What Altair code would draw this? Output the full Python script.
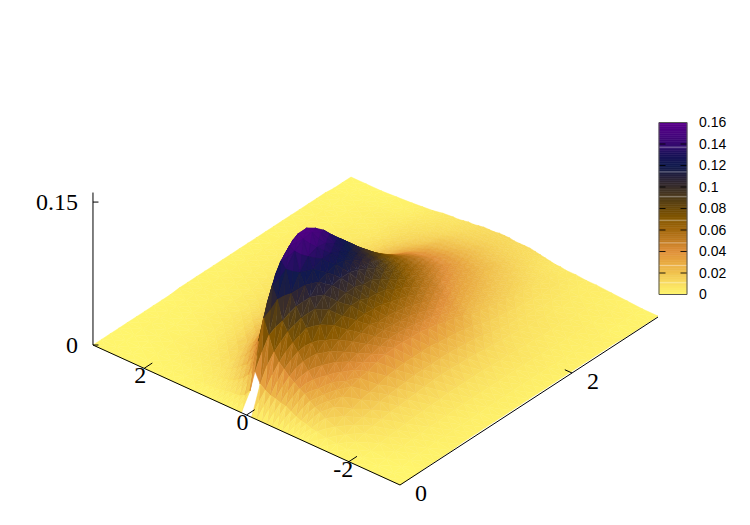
import altair as alt
import pandas as pd

alt.data_transformers.disable_max_rows()

# grid of the surface: x, y and z (z in thousandths)
X_VALUES = [0, .1, .2, .3, .4, .5, .6, .7, .8, .9, 1, 1.1, 1.2, 1.3, 1.4, 1.5, 1.6, 1.7, 1.8, 1.9, 2, 2.1, 2.2, 2.3, 2.4, 2.5, 2.6, 2.7, 2.8, 2.9, 3]
Y_VALUES = [-3, -2.7, -2.4, -2.1, -1.8, -1.6, -1.4, -1.2, -1.1, -1, -.9, -.8, -.7, -.6, -.5, -.4, -.3, -.2, -.1, 0,
            .1, .2, .3, .4, .5, .6, .7, .8, .9, 1, 1.2, 1.4, 1.6, 1.8, 2.1, 2.4, 2.7, 3]
Z_ROWS = [
    [0,0,0,0,0,0,0,0,0,0,0,0,0,0,0,0,0,0,0,None,0,0,0,0,0,0,0,0,0,0,0,0,0,0,0,0,0,0],
    [0,0,0,1,2,3,4,6,7,9,10,12,15,18,19,21,22,25,29,40,17,10,7,6,6,5,4,3,3,3,2,1,1,1,0,0,0,0],
    [0,0,1,2,4,7,10,14,18,21,25,30,33,37,41,46,51,59,74,90,63,35,23,17,13,10,8,7,6,5,3,2,2,1,1,0,0,0],
    [1,1,3,4,7,11,15,20,24,28,32,39,46,53,61,68,77,86,106,118,97,64,44,31,23,19,14,11,8,7,5,4,3,2,1,1,0,0],
    [1,2,3,5,9,13,17,25,30,35,40,48,58,67,80,88,98,109,132,138,122,92,64,47,37,28,21,17,12,10,7,5,4,3,2,1,1,0],
    [1,2,4,6,10,15,21,30,33,40,48,57,66,80,94,104,114,125,145,148,136,113,83,60,48,38,29,22,17,14,9,6,4,3,2,1,1,0],
    [1,3,4,7,12,18,23,33,39,45,53,63,76,90,103,114,125,136,152,155,146,126,99,71,57,45,35,27,22,17,12,8,5,3,2,1,1,0],
    [2,3,5,8,12,19,25,34,41,48,58,68,80,93,107,118,130,140,153,155,147,131,109,84,65,51,41,32,26,21,13,9,6,4,3,1,1,0],
    [2,3,5,8,13,20,28,38,44,52,61,72,85,96,109,121,130,138,147,149,142,128,112,91,71,56,45,36,30,23,16,10,7,5,3,2,1,0],
    [2,3,5,9,14,21,29,40,46,54,64,73,85,96,109,119,126,132,139,141,136,124,109,92,74,59,48,40,32,26,17,12,8,6,3,2,1,0],
    [2,3,6,9,15,22,30,41,48,55,61,72,81,93,106,113,119,124,129,130,126,117,104,91,77,61,50,41,32,28,20,13,9,6,3,2,2,1],
    [2,3,6,10,16,22,30,41,48,54,61,71,80,92,101,108,112,114,120,120,118,110,100,88,75,62,51,41,33,27,20,14,9,6,4,2,2,1],
    [2,4,6,10,16,22,30,40,47,53,60,68,78,87,96,102,104,107,110,110,108,101,93,83,71,60,50,41,33,28,20,15,10,7,4,2,2,1],
    [2,4,6,10,16,22,30,40,46,52,58,65,72,80,87,92,96,97,100,100,98,93,86,77,67,58,49,42,35,30,21,15,11,7,4,3,2,1],
    [2,4,6,10,15,22,28,38,43,49,55,62,69,75,80,84,86,88,91,91,90,85,79,71,63,55,47,40,35,30,21,16,11,8,5,3,2,1],
    [2,4,6,10,15,21,27,36,42,46,52,58,63,69,73,76,79,80,82,82,81,77,73,66,59,52,45,39,34,29,21,15,11,8,5,3,2,1],
    [2,4,6,9,14,20,26,33,38,42,47,52,57,62,65,68,71,72,74,74,73,70,66,60,54,48,42,36,31,28,20,15,11,8,5,3,2,1],
    [2,4,6,9,13,19,24,31,34,38,43,47,51,56,59,62,65,66,67,67,66,63,60,55,50,45,40,35,31,28,20,14,10,8,5,3,2,1],
    [2,4,6,9,12,17,22,28,32,35,39,43,47,50,53,56,58,59,60,60,59,57,54,50,46,41,36,32,28,25,18,13,10,7,5,3,2,1],
    [2,4,6,8,11,14,18,23,26,29,32,36,39,43,46,49,52,53,54,54,53,51,49,46,42,38,34,30,27,24,17,13,9,7,5,3,2,1],
    [2,3,5,7,10,13,16,21,23,26,29,32,35,38,41,44,46,47,48,48,47,46,44,41,38,34,31,27,24,22,16,12,9,6,4,3,2,1],
    [2,3,5,7,9,11,14,19,21,24,26,29,31,33,36,38,41,41,42,42,41,40,39,37,34,31,28,25,23,21,15,11,8,6,4,3,2,1],
    [2,3,4,6,8,10,13,17,19,21,23,26,28,30,32,34,36,36,37,37,36,36,34,32,30,28,26,23,21,19,14,10,8,6,4,3,2,1],
    [2,3,4,6,8,9,11,16,17,19,21,23,25,27,29,30,32,32,33,33,32,31,31,29,27,25,23,21,19,17,13,10,7,5,4,2,2,1],
    [2,3,4,5,7,8,10,13,15,17,18,20,21,23,25,26,27,28,28,28,28,27,26,25,24,22,20,18,17,15,12,9,6,5,4,2,2,1],
    [2,3,4,5,6,7,9,12,13,15,16,18,19,21,22,23,23,24,24,24,24,23,23,22,21,19,17,16,15,13,11,8,6,4,3,2,2,1],
    [1,2,3,4,5,7,8,10,12,13,14,15,17,18,19,19,20,20,21,21,20,20,19,19,18,17,15,14,13,12,10,8,6,4,3,2,1,1],
    [1,2,3,4,5,6,8,9,10,11,12,13,14,15,16,16,17,17,18,18,17,17,16,16,15,14,13,12,11,10,9,7,5,4,3,2,1,1],
    [1,2,3,3,4,5,7,8,9,9,10,11,12,13,13,14,14,15,15,15,15,14,14,13,13,12,11,10,10,9,7,6,4,3,2,1,1,0],
    [1,2,2,3,4,4,6,6,7,7,8,9,10,11,11,12,12,13,13,13,13,13,12,12,11,10,10,9,8,8,6,5,3,2,1,1,0,0],
    [1,1,2,3,4,4,5,5,6,6,7,8,9,10,11,11,11,11,12,12,12,11,11,11,10,9,9,8,7,7,6,4,3,2,1,0,0,0],
]

# colour palette
PAL_Z = [0, .01, .02, .03, .04, .05, .06, .07, .08, .09, .10, .11, .12, .13, .14, .15, .16]
PAL_C = ["#fff56c", "#f9de5f", "#f1c450", "#e8a940", "#e0903a", "#c27c22", "#a56a10", "#875800",
         "#6b4a08", "#4e3a18", "#3a2e2a", "#25203a", "#101a4e", "#1a1258", "#360a70", "#48047e", "#5a008a"]

# colour-bar labels and artefact lines
BAR_TICKS = [0, .02, .04, .06, .08, .10, .12, .14, .16]
BAR_LABELS = ["0", "0.02", "0.04", "0.06", "0.08", "0.1", "0.12", "0.14", "0.16"]
BAR_LINES = [.011, .027, .048, .069, .091, .114, .137]

Z_TICKS = [0, .15]
Z_LABELS = ["0", "0.15"]
Y_TICKS = [2, 0, -2]
X_TICKS = [0, 2]


def px(x, y, z=0.0):
    return 400 + 86 * x - 51.17 * (y + 3)


def py(x, y, z=0.0):
    return 485 - 56 * x - 23.33 * (y + 3) - 953 * z


# surface cells, back to front; each read cell is shaded as four triangles
rows = []
cid = 0
for i in range(len(X_VALUES) - 2, -1, -1):
    for j in range(len(Y_VALUES) - 2, -1, -1):
        q = [(i + 1, j), (i + 1, j + 1), (i, j + 1), (i, j)]
        zs = [Z_ROWS[a][b] for a, b in q]
        if None in zs:
            continue
        pts = [(px(X_VALUES[a], Y_VALUES[b], Z_ROWS[a][b] / 1000),
                py(X_VALUES[a], Y_VALUES[b], Z_ROWS[a][b] / 1000)) for a, b in q]
        cx = sum(p[0] for p in pts) / 4
        cy = sum(p[1] for p in pts) / 4
        cz = sum(zs) / 4
        for m1, m2 in [(0, 1), (1, 2), (3, 0), (2, 3)]:
            shade = (zs[m1] + zs[m2] + cz) / 3000
            tri = [pts[m1], pts[m2], (cx, cy), pts[m1]]
            for k, (sx, sy) in enumerate(tri):
                rows.append({"sx": sx, "sy": sy, "cell": cid, "k": k, "c": shade})
            cid += 1
surface = pd.DataFrame(rows)

xs = alt.Scale(domain=[8, 742], range=[0, 734], nice=False, zero=False)
ys = alt.Scale(domain=[517, 8], range=[509, 0], nice=False, zero=False)
cs = alt.Scale(domain=PAL_Z, range=PAL_C, interpolate="rgb")
X = alt.X("sx:Q", scale=xs, axis=None)
Y = alt.Y("sy:Q", scale=ys, axis=None)

surf = alt.Chart(surface).mark_line(strokeWidth=0.5, interpolate="linear").encode(
    x=X, y=Y, detail="cell:N", order="k:Q",
    fill=alt.Fill("c:Q", scale=cs, legend=None),
    stroke=alt.Stroke("c:Q", scale=cs, legend=None),
)

# axis lines and ticks
segs = [
    (px(0, 3), py(0, 3), px(0, -3), py(0, -3), 1.0),
    (px(0, -3), py(0, -3), px(3, -3), py(3, -3), 1.0),
    (px(0, 3), py(0, 3), px(0, 3), py(0, 3, .16), 1.0),
]
for t in Y_TICKS:
    segs.append((px(0, t), py(0, t), px(.095, t), py(.095, t), 1.0))
for t in X_TICKS[1:]:
    segs.append((px(t, -3), py(t, -3), px(t, -2.86), py(t, -2.86), 1.0))
for t in Z_TICKS:
    segs.append((px(0, 3), py(0, 3, t), px(0, 3) + 5.5, py(0, 3, t), 1.0))
seg_df = pd.DataFrame(segs, columns=["sx", "sy", "sx2", "sy2", "w"])
axes = alt.Chart(seg_df).mark_rule(color="black", strokeWidth=1).encode(
    x=X, y=Y, x2="sx2:Q", y2="sy2:Q")

# axis labels
labs = []
for t, s in zip(Z_TICKS, Z_LABELS):
    labs.append((78, py(0, 3, t) + 0.5, s, "right"))
for t in Y_TICKS:
    labs.append((px(0, t) - 4 - (1.5 if t < 0 else 0), py(0, t) + 8, str(t), "center"))
for t in X_TICKS:
    labs.append((px(t, -3) + 21, py(t, -3) + 9, str(t), "center"))
lab_df = pd.DataFrame(labs, columns=["sx", "sy", "t", "a"])
label_layers = [
    alt.Chart(lab_df[lab_df.a == a]).mark_text(font="Liberation Serif", fontSize=24, color="black",
                                               align=a, baseline="middle").encode(x=X, y=Y, text="t:N")
    for a in ["right", "center"]
]

# colour bar
BX0, BX1, BY0, BH = 659, 687, 294.5, 172


def bar_y(v):
    return BY0 - BH * v / .16


steps = 80
bar_df = pd.DataFrame({
    "sx": [BX0] * steps, "sx2": [BX1] * steps,
    "sy": [bar_y(i * .002) for i in range(steps)],
    "sy2": [bar_y((i + 1) * .002) for i in range(steps)],
    "c": [(i + .5) * .002 for i in range(steps)],
})
bar = alt.Chart(bar_df).mark_rect(strokeWidth=0.6).encode(
    x=X, x2="sx2:Q", y=Y, y2="sy2:Q",
    fill=alt.Fill("c:Q", scale=cs, legend=None),
    stroke=alt.Stroke("c:Q", scale=cs, legend=None))

line_df = pd.DataFrame({"sx": [BX0] * len(BAR_LINES), "sx2": [BX1] * len(BAR_LINES),
                        "sy": [bar_y(v) for v in BAR_LINES]})
lines = alt.Chart(line_df).mark_rule(color="white", opacity=.4, strokeWidth=1).encode(x=X, x2="sx2:Q", y=Y)

tk = []
for v in BAR_TICKS:
    tk.append((BX0, BX0 + 6.5, bar_y(v)))
    tk.append((BX1 - 6.5, BX1, bar_y(v)))
tk_df = pd.DataFrame(tk, columns=["sx", "sx2", "sy"])
ticks = alt.Chart(tk_df).mark_rule(color="black", strokeWidth=1, opacity=.85).encode(x=X, x2="sx2:Q", y=Y)

fr_df = pd.DataFrame({"sx": [BX0], "sx2": [BX1], "sy": [bar_y(.16)], "sy2": [bar_y(0)]})
frame = alt.Chart(fr_df).mark_rect(fill="transparent", stroke="#555555", strokeWidth=1).encode(
    x=X, x2="sx2:Q", y=Y, y2="sy2:Q")

bl_df = pd.DataFrame({"sx": [699] * len(BAR_TICKS), "sy": [bar_y(v) + .5 for v in BAR_TICKS], "t": BAR_LABELS})
bar_labels = alt.Chart(bl_df).mark_text(font="Liberation Sans", fontSize=14, color="black", align="left",
                                        baseline="middle").encode(x=X, y=Y, text="t:N")

chart = alt.layer(surf, axes, *label_layers, bar, lines, ticks, frame, bar_labels).properties(
    width=734, height=509, padding=0, autosize=alt.AutoSizeParams(type="none"),
).resolve_scale(fill="shared", stroke="shared").configure_view(stroke=None)

chart.save("out.html", embed_options={"renderer": "svg", "actions": False})
